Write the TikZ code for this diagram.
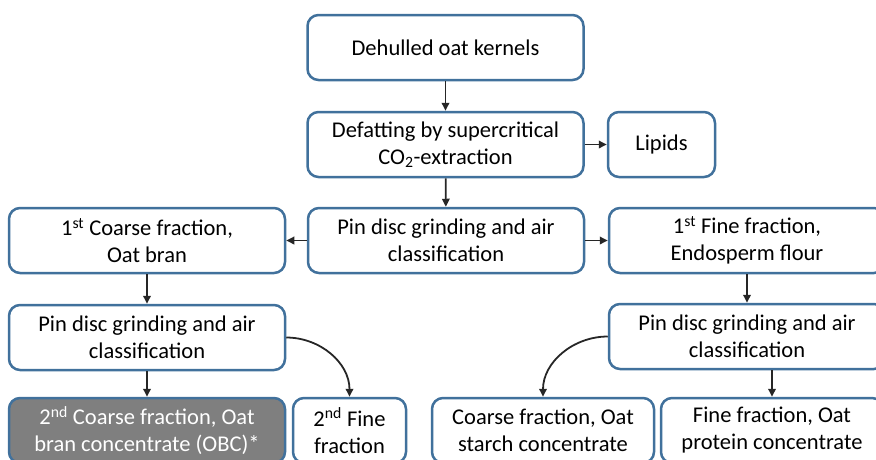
\documentclass[tikz,border=0pt]{standalone}
\usepackage{fontspec}
\setmainfont{Carlito}
\usetikzlibrary{arrows.meta}
\definecolor{boxblue}{HTML}{41719C}
\definecolor{arr}{HTML}{262626}
\definecolor{grayfill}{HTML}{7F7F7F}
\begin{document}
\begin{tikzpicture}[x=1pt,y=-1pt,
  box/.style={draw=boxblue, line width=2.5pt, rounded corners=11pt, fill=white,
    align=center, inner sep=0pt, minimum height=65pt,
    font=\fontsize{22.5}{27}\selectfont, text=black},
  wide/.style={box, minimum width=276pt},
  grey/.style={box, fill=grayfill, text=white},
  conn/.style={draw=arr, line width=1.8pt, -{Triangle[length=8pt,width=7.5pt]}}]
\useasboundingbox (0,0) rectangle (876,459);
\clip (0,0) rectangle (876,459);

\node[wide] (deh) at (445.5,47.5) {Dehulled oat kernels};
\node[wide] (def) at (445.5,144.5) {Defatting by supercritical\\CO\textsubscript{2}-extraction};
\node[box, minimum width=107pt] (lip) at (661.5,144.5) {Lipids};
\node[wide] (pin0) at (446,240.5) {Pin disc grinding and air\\classification};
\node[wide] (c1) at (147,240.5) {1\textsuperscript{st} Coarse fraction,\\Oat bran};
\node[wide] (f1) at (747,240.5) {1\textsuperscript{st} Fine fraction,\\Endosperm flour};
\node[wide] (pinL) at (147,337.5) {Pin disc grinding and air\\classification};
\node[wide] (pinR) at (747,336.5) {Pin disc grinding and air\\classification};
\node[grey, minimum width=276pt] (c2) at (147,430.5) {2\textsuperscript{nd} Coarse fraction, Oat\\bran concentrate (OBC)*};
\node[box, minimum width=113pt] (f2) at (349.5,430.5) {2\textsuperscript{nd} Fine\\fraction};
\node[box, minimum width=222pt] (cs) at (543,430.5) {Coarse fraction, Oat\\starch concentrate};
\node[box, minimum width=222pt] (fp) at (772,430.5) {Fine fraction, Oat\\protein concentrate};

\draw[conn] (deh) -- (def);
\draw[conn] (def) -- (lip);
\draw[conn] (def) -- (pin0);
\draw[conn] (pin0) -- (c1);
\draw[conn] (pin0) -- (f1);
\draw[conn] (c1) -- (pinL);
\draw[conn] (pinL) -- (c2);
\draw[conn] (f1) -- (pinR);
\draw[conn] (pinR.south -| fp.north) -- (fp.north);
\draw[conn] (pinL.east) to[out=0,in=90] (f2.north);
\draw[conn] (pinR.west) to[out=180,in=90] (cs.north);
\end{tikzpicture}
\end{document}
